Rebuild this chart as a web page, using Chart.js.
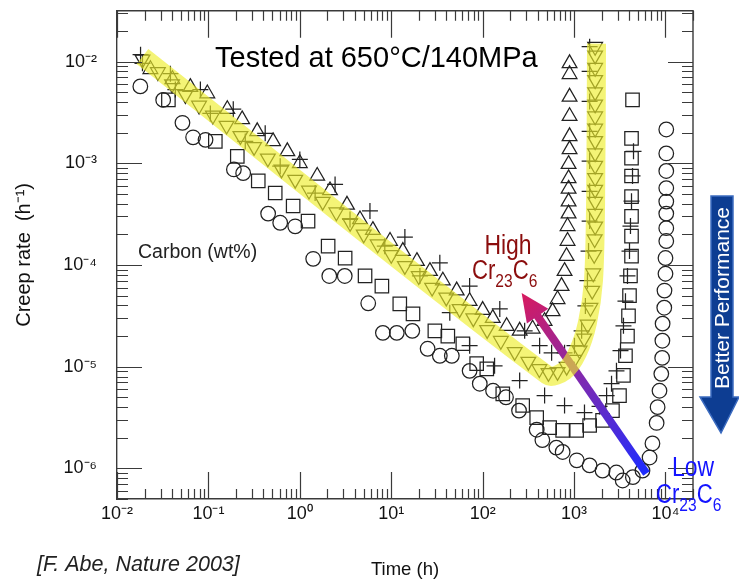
<!DOCTYPE html>
<html>
<head>
<meta charset="utf-8">
<title>Creep rate vs time</title>
<script src="https://cdn.jsdelivr.net/npm/chart.js@4.4.1/dist/chart.umd.min.js"></script>
<style>
  html, body { margin: 0; padding: 0; background: #fff; }
  #wrap { width: 739px; height: 586px; }
</style>
</head>
<body>
<div id="wrap"><canvas id="creepChart" width="739" height="586"></canvas></div>
<script>
"use strict";

// creep curves: [time (h), creep rate (1/h)]
const circlePts = [[0.018,5.7e-3],[0.032,4.2e-3],[0.052,2.5e-3],[0.068,1.8e-3],[0.093,1.7e-3],[0.19,8.7e-4],[0.24,8.0e-4],[0.45,3.2e-4],[0.61,2.6e-4],[0.89,2.4e-4],[1.4,1.15e-4],[2.1,7.8e-5],[3.1,7.8e-5],[5.6,4.2e-5],[8.1,2.15e-5],[11.5,2.15e-5],[17,2.25e-5],[25,1.5e-5],[34,1.28e-5],[46,1.28e-5],[72,9.1e-6],[93,6.8e-6],[130,5.8e-6],[180,5.0e-6],[250,3.7e-6],[390,2.4e-6],[450,1.9e-6],[640,1.6e-6],[750,1.45e-6],[1070,1.2e-6],[1480,1.07e-6],[2050,9.5e-7],[2900,9.1e-7],[3400,7.6e-7],[4400,8.2e-7],[5600,9.5e-7],[6700,1.28e-6],[7200,1.76e-6],[8000,2.8e-6],[8200,4.0e-6],[8600,5.8e-6],[9000,8.5e-6],[9200,1.22e-5],[9250,1.8e-5],[9300,2.65e-5],[9700,3.8e-5],[9750,5.6e-5],[10000,8.2e-5],[10000,1.17e-4],[10200,1.72e-4],[10200,2.3e-4],[10200,3.2e-4],[10200,4.2e-4],[10200,5.7e-4],[10200,8.4e-4],[10200,1.25e-3],[10200,2.15e-3]];
const squarePts = [[0.0365,4.2e-3],[0.119,1.64e-3],[0.207,1.17e-3],[0.351,6.7e-4],[0.538,5.1e-4],[0.845,3.8e-4],[1.23,2.7e-4],[2.04,1.53e-4],[3.13,1.17e-4],[5.17,7.8e-5],[7.9,6.2e-5],[12.4,4.15e-5],[17.3,3.3e-5],[30,2.25e-5],[41.6,2.0e-5],[60.7,1.68e-5],[86,1.07e-5],[111,9.5e-6],[166,5.4e-6],[274,4.15e-6],[390,3.16e-6],[541,2.52e-6],[750,2.36e-6],[1067,2.36e-6],[1480,2.64e-6],[2050,2.96e-6],[2630,3.7e-6],[3140,5.2e-6],[3470,8.2e-6],[3650,1.28e-5],[3840,2.0e-5],[3940,3.16e-5],[4040,5.0e-5],[4140,7.8e-5],[4250,1.22e-4],[4250,1.92e-4],[4250,3.0e-4],[4250,4.7e-4],[4250,7.5e-4],[4250,1.12e-3],[4250,1.76e-3],[4360,4.2e-3]];
const plusLowPts = [[0.019,9.6e-3],[0.0435,5.3e-3],[0.105,3.09e-3],[0.253,1.64e-3],[0.61,9.35e-4],[1.47,5.1e-4],[3.54,2.8e-4],[8.5,1.53e-4],[20.6,7.8e-5],[43.7,3.4e-5],[72,1.61e-5],[135,1.02e-5],[254,7.3e-6],[476,5.2e-6],[787,4.15e-6],[1300,3.54e-6],[1900,4.06e-6],[2270,5.2e-6],[2570,6.8e-6],[2910,9.1e-6],[3220,1.44e-5],[3470,2.52e-5],[3650,4.4e-5],[3840,7.8e-5],[4040,1.37e-4],[4140,2.41e-4],[4250,4.24e-4],[4360,7.5e-4],[4470,1.31e-3]];
const plusHighPts = [[0.0181,1.17e-2],[0.0384,7.6e-3],[0.0817,5.3e-3],[0.187,3.4e-3],[0.418,1.97e-3],[1.0,1.09e-3],[2.43,6.2e-4],[5.85,3.4e-4],[14.1,1.88e-4],[34,1.05e-4],[72,6.2e-5],[154,3.7e-5],[288,2.25e-5],[420,1.61e-5],[568,1.37e-5],[787,1.37e-5],[1010,1.61e-5],[1210,2.25e-5],[1330,3.96e-5],[1400,7.0e-5],[1440,1.37e-4],[1480,2.7e-4],[1480,5.3e-4],[1480,1.05e-3],[1480,2.06e-3],[1480,4.06e-3],[1480,8.0e-3],[1480,1.4e-2]];
const trianglePts = [[0.0232,8.4e-3],[0.0404,6.7e-3],[0.0634,5.6e-3],[0.0973,4.85e-3],[0.161,3.4e-3],[0.234,2.7e-3],[0.342,2.06e-3],[0.51,1.64e-3],[0.73,1.31e-3],[1.0,1.0e-3],[1.55,7.5e-4],[2.14,5.4e-4],[3.28,3.9e-4],[4.55,2.8e-4],[6.3,2.2e-4],[9.7,1.72e-4],[13.4,1.37e-4],[19.1,1.09e-4],[26.5,8.7e-5],[36.7,7.0e-5],[52,5.6e-5],[72,4.4e-5],[100,3.6e-5],[129,3.0e-5],[183,2.5e-5],[254,2.25e-5],[352,2.36e-5],[476,2.8e-5],[582,3.5e-5],[660,4.6e-5],[730,6.2e-5],[787,8.7e-5],[828,1.22e-4],[849,1.72e-4],[849,2.4e-4],[871,3.2e-4],[871,4.2e-4],[871,5.6e-4],[871,7.1e-4],[871,9.8e-4],[893,1.37e-3],[893,1.84e-3],[893,2.9e-3],[893,4.5e-3],[893,7.5e-3],[893,9.6e-3]];
const invTrianglePts = [[0.019,1.05e-2],[0.028,7.9e-3],[0.040,6.0e-3],[0.056,4.7e-3],[0.079,3.7e-3],[0.112,2.95e-3],[0.158,2.35e-3],[0.224,1.86e-3],[0.316,1.45e-3],[0.447,1.12e-3],[0.63,8.7e-4],[0.89,6.9e-4],[1.26,5.4e-4],[1.78,4.2e-4],[2.51,3.3e-4],[3.55,2.6e-4],[5.0,2.0e-4],[7.1,1.6e-4],[10,1.26e-4],[14.1,9.8e-5],[20,7.8e-5],[28,6.0e-5],[40,4.8e-5],[56,3.7e-5],[79,3.0e-5],[112,2.3e-5],[158,1.8e-5],[224,1.4e-5],[316,1.12e-5],[417,9.5e-6],[525,8.7e-6],[660,8.9e-6],[830,1.0e-5],[1000,1.17e-5],[1150,1.45e-5],[1290,1.9e-5],[1410,2.6e-5],[1510,3.8e-5],[1580,5.6e-5],[1620,8.3e-5],[1660,1.26e-4],[1680,1.8e-4],[1700,2.4e-4],[1700,3.2e-4],[1700,4.2e-4],[1700,5.5e-4],[1700,7.2e-4],[1700,9.5e-4],[1700,1.26e-3],[1700,1.66e-3],[1700,2.2e-3],[1700,2.9e-3],[1700,3.8e-3],[1700,5.0e-3],[1700,6.6e-3],[1700,8.7e-3],[1700,1.15e-2],[1700,1.4e-2]];
// yellow highlight drawn over the high-carbon curve
const highlightPts = [[0.019,1.12e-2],[514,8.2e-6],[787,9.1e-6],[1090,1.37e-5],[1400,2.7e-5],[1630,7.0e-5],[1720,4.24e-4],[1760,1.5e-2]];

// Cr23C6 arrow, low end -> high end
const arrowTail = [6200, 8.9e-7];
const arrowTip  = [267, 5.3e-5];

const xMajorTicks = [1e-2, 1e-1, 1, 10, 100, 1e3, 1e4];
const xTickLabels = ["10\u207B\u00B2", "10\u207B\u00B9", "10\u2070", "10\u00B9", "10\u00B2", "10\u00B3", "10\u2074"];
const yMajorTicks = [1e-6, 1e-5, 1e-4, 1e-3, 1e-2];
const yTickLabels = ["10\u207B\u2076", "10\u207B\u2075", "10\u207B\u2074", "10\u207B\u00B3", "10\u207B\u00B2"];
const X_MIN = 0.01, X_MAX = 2e4, Y_MIN = 5e-7, Y_MAX = 0.0316;

const FONT = "'Liberation Sans', Arial, Helvetica, sans-serif";
const INK = "#222";
const AXIS_COLOR = "#3a3a3a";

function withMinors(majors, lo, hi) {
  const out = [];
  majors.forEach(m => {
    for (let k = 1; k <= 9; k++) {
      const v = m * k;
      if (v >= lo * 0.999 && v <= hi * 1.001) out.push(v);
    }
  });
  return out;
}

function isDecade(v) {
  const l = Math.log10(v);
  return Math.abs(l - Math.round(l)) < 1e-6;
}

function labelFor(majors, labels) {
  return v => {
    const i = majors.findIndex(m => Math.abs(m - v) / m < 1e-6);
    return i >= 0 ? labels[i] : "";
  };
}

const toXY = pts => pts.map(p => ({ x: p[0], y: p[1] }));

function markerSet(label, pts, style, radius, extra) {
  return Object.assign({
    label: label,
    data: toXY(pts),
    pointStyle: style,
    pointRadius: radius,
    pointBorderColor: INK,
    pointBackgroundColor: "rgba(0,0,0,0)",
    pointBorderWidth: 1.25,
    showLine: false,
    order: 1
  }, extra || {});
}

// arrow drawn just before the yellow band so it sits above markers but under the band
const cr23Arrow = {
  id: "cr23Arrow",
  beforeDatasetDraw(chart, args) {
    if (args.index !== 0) return;
    const { ctx, scales: { x, y } } = chart;
    const tx = x.getPixelForValue(arrowTail[0]), ty = y.getPixelForValue(arrowTail[1]);
    const hx = x.getPixelForValue(arrowTip[0]),  hy = y.getPixelForValue(arrowTip[1]);
    const len = Math.hypot(hx - tx, hy - ty);
    const ux = (hx - tx) / len, uy = (hy - ty) / len;
    const headL = 28, headW = 13;
    const bx = hx - ux * headL, by = hy - uy * headL;
    const grad = ctx.createLinearGradient(tx, ty, hx, hy);
    grad.addColorStop(0, "#1d2cff");
    grad.addColorStop(0.5, "#7a2ab4");
    grad.addColorStop(1, "#d81b5f");
    ctx.save();
    ctx.strokeStyle = grad;
    ctx.lineWidth = 8;
    ctx.beginPath();
    ctx.moveTo(tx, ty);
    ctx.lineTo(bx + ux * 2, by + uy * 2);
    ctx.stroke();
    ctx.fillStyle = grad;
    ctx.beginPath();
    ctx.moveTo(hx, hy);
    ctx.lineTo(bx - uy * headW, by + ux * headW);
    ctx.lineTo(bx + uy * headW, by - ux * headW);
    ctx.closePath();
    ctx.fill();
    ctx.restore();
  }
};

const frameTicks = {
  id: "frameTicks",
  afterDatasetsDraw(chart) {
    const { ctx, chartArea: a, scales: { x, y } } = chart;
    ctx.save();
    ctx.strokeStyle = AXIS_COLOR;
    ctx.lineWidth = 1.4;
    ctx.beginPath();
    ctx.moveTo(a.left, a.top);
    ctx.lineTo(a.right, a.top);
    ctx.lineTo(a.right, a.bottom);
    ctx.stroke();
    ctx.lineWidth = 1.2;
    ctx.beginPath();
    x.ticks.forEach(t => {
      const px = Math.round(x.getPixelForValue(t.value)) + 0.5;
      const len = isDecade(t.value) ? 27 : 10;
      ctx.moveTo(px, a.bottom); ctx.lineTo(px, a.bottom - len);
      ctx.moveTo(px, a.top);    ctx.lineTo(px, a.top + len);
    });
    y.ticks.forEach(t => {
      const py = Math.round(y.getPixelForValue(t.value)) + 0.5;
      const len = isDecade(t.value) ? 25 : 11;
      ctx.moveTo(a.left, py);  ctx.lineTo(a.left + len, py);
      ctx.moveTo(a.right, py); ctx.lineTo(a.right - len, py);
    });
    ctx.stroke();
    ctx.restore();
  }
};

// narrow lettering: regular face squeezed horizontally
function narrowText(ctx, text, x, y, size, align) {
  ctx.save();
  ctx.font = size + "px " + FONT;
  const w = ctx.measureText(text).width * 0.82;
  const left = align === "center" ? x - w / 2 : x;
  ctx.translate(left, y);
  ctx.scale(0.82, 1);
  ctx.textAlign = "left";
  ctx.fillText(text, 0, 0);
  ctx.restore();
  return w;
}

function drawChem(ctx, x, y, size, sub) {
  // "Cr23C6" with subscripts
  const small = Math.round(size * 0.72);
  let cx = x;
  cx += narrowText(ctx, "Cr", cx, y, size);
  cx += narrowText(ctx, "23", cx, y + sub, small);
  cx += narrowText(ctx, "C", cx, y, size);
  narrowText(ctx, "6", cx, y + sub, small);
}

const notes = {
  id: "notes",
  afterDraw(chart) {
    const ctx = chart.ctx;
    ctx.save();
    ctx.fillStyle = "#000";
    ctx.textBaseline = "alphabetic";
    ctx.textAlign = "left";
    ctx.font = "29px " + FONT;
    ctx.fillText("Tested at 650\u00B0C/140MPa", 215, 67);
    ctx.fillStyle = INK;
    ctx.font = "19.5px " + FONT;
    ctx.fillText("Carbon (wt%)", 138, 258);

    ctx.fillStyle = "#8b0d0d";
    narrowText(ctx, "High", 508, 254, 28, "center");
    drawChem(ctx, 472, 279, 27, 8);

    ctx.fillStyle = "#1414ff";
    narrowText(ctx, "Low", 693, 476, 28, "center");
    drawChem(ctx, 656, 503, 27, 8);

    ctx.fillStyle = "#222";
    ctx.font = "italic 21.5px " + FONT;
    ctx.fillText("[F. Abe, Nature 2003]", 37, 571);

    // "Better Performance" arrow on the right edge
    ctx.fillStyle = "#0d3d92";
    ctx.strokeStyle = "#3c6cc0";
    ctx.lineWidth = 1.5;
    ctx.beginPath();
    ctx.moveTo(711, 196);
    ctx.lineTo(733, 196);
    ctx.lineTo(733, 397);
    ctx.lineTo(739, 397);
    ctx.lineTo(721, 433);
    ctx.lineTo(700, 397);
    ctx.lineTo(711, 397);
    ctx.closePath();
    ctx.fill();
    ctx.stroke();
    ctx.translate(722, 298);
    ctx.rotate(-Math.PI / 2);
    ctx.fillStyle = "#fff";
    ctx.font = "21px " + FONT;
    ctx.textAlign = "center";
    ctx.textBaseline = "middle";
    ctx.fillText("Better Performance", 0, 1);
    ctx.restore();
  }
};

const xTickValues = withMinors(xMajorTicks, X_MIN, X_MAX);
const yTickValues = withMinors([1e-7].concat(yMajorTicks), Y_MIN, Y_MAX);

new Chart(document.getElementById("creepChart"), {
  type: "scatter",
  data: {
    datasets: [
      { label: "highlight", data: toXY(highlightPts), showLine: true, borderColor: "rgba(238,238,40,0.64)",
        borderWidth: 19, borderCapStyle: "butt", borderJoinStyle: "round", tension: 0.3,
        pointRadius: 0, order: 0 },
      markerSet("\u25BD", invTrianglePts, "triangle", 8.5, { rotation: 180 }),
      markerSet("\u25B3", trianglePts, "triangle", 8.5),
      markerSet("+ high", plusHighPts, "cross", 8),
      markerSet("+ low", plusLowPts, "cross", 8),
      markerSet("\u25A1", squarePts, "rect", 9.5),
      markerSet("\u25CB", circlePts, "circle", 7.3)
    ]
  },
  options: {
    responsive: false,
    animation: false,
    layout: { padding: { top: 9, right: 46, left: 0, bottom: 0 } },
    plugins: { legend: { display: false }, tooltip: { enabled: false } },
    scales: {
      x: {
        type: "logarithmic",
        min: X_MIN, max: X_MAX,
        afterBuildTicks: s => { s.ticks = xTickValues.map(v => ({ value: v })); },
        afterFit: s => { s.height = 87; s.paddingLeft = 0; s.paddingRight = 0; },
        ticks: { autoSkip: false, maxRotation: 0, padding: 4, color: "#111",
                 font: { family: FONT, size: 18 }, callback: labelFor(xMajorTicks, xTickLabels) },
        grid: { drawOnChartArea: false, drawTicks: false },
        border: { display: true, color: AXIS_COLOR, width: 1.4 },
        title: { display: true, text: "Time (h)", color: "#111", font: { family: FONT, size: 18.5 },
                 padding: { top: 0, bottom: 5 } }
      },
      y: {
        type: "logarithmic",
        min: Y_MIN, max: Y_MAX,
        afterBuildTicks: s => { s.ticks = yTickValues.map(v => ({ value: v })); },
        afterFit: s => { s.width = 117; s.paddingTop = 0; s.paddingBottom = 0; },
        ticks: { autoSkip: false, padding: 20, color: "#111",
                 font: { family: FONT, size: 18 }, callback: labelFor(yMajorTicks, yTickLabels) },
        grid: { drawOnChartArea: false, drawTicks: false },
        border: { display: true, color: AXIS_COLOR, width: 1.4 },
        title: { display: true, text: "Creep rate  (h\u207B\u00B9)", color: "#111",
                 font: { family: FONT, size: 20 }, padding: { top: 12, bottom: 0 } }
      }
    }
  },
  plugins: [cr23Arrow, frameTicks, notes]
});
</script>
</body>
</html>
